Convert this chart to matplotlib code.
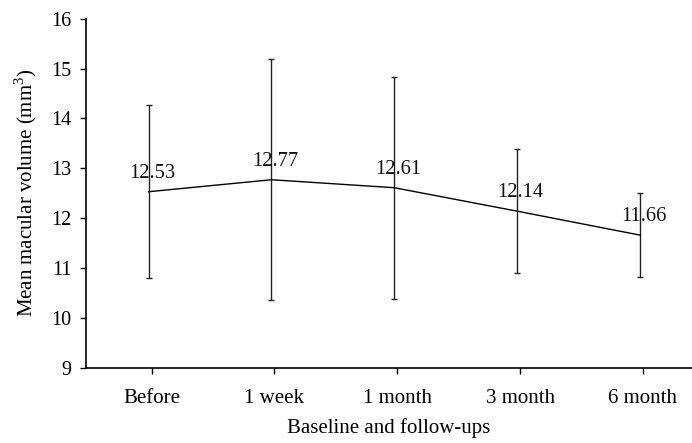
import matplotlib
matplotlib.use("Agg")
import matplotlib.pyplot as plt
import matplotlib.transforms as mtransforms

# Mean macular volume at baseline and follow-up visits, with standard deviations
visits = ["Before", "1 week", "1 month", "3 month", "6 month"]
mean_volume = [12.53, 12.77, 12.61, 12.14, 11.66]
sd_volume = [1.74, 2.42, 2.23, 1.25, 0.84]
y_ticks = [9, 10, 11, 12, 13, 14, 15, 16]

plt.rcParams["font.family"] = ["Liberation Serif", "DejaVu Serif"]
plt.rcParams["mathtext.fontset"] = "custom"
plt.rcParams["mathtext.rm"] = "Liberation Serif"

W, H, DPI = 692, 443, 100
fig = plt.figure(figsize=(W / DPI, H / DPI), dpi=DPI)
ax = fig.add_axes([86 / W, (H - 367.7) / H, (W - 86) / W, (367.7 - 18.7) / H])

x = list(range(len(visits)))

# series sits slightly left of the category ticks
shift = mtransforms.offset_copy(ax.transData, fig=fig, x=-3, y=0, units="dots")

ax.errorbar(x, mean_volume, yerr=sd_volume, color="black", ecolor="#222222",
            elinewidth=1.0, capsize=2.5, capthick=1.0, linewidth=1.0,
            transform=shift)

for xi, m in zip(x, mean_volume):
    ax.annotate(f"{m:.2f}", (xi, m), xytext=(0.5, 13.3), textcoords="offset points",
                ha="center", va="center", fontsize=14.8, color="#111111")

ax.set_xlim(-0.535, 4.40)
ax.set_ylim(9, 16)
ax.set_yticks(y_ticks)
ax.set_xticks(x)
ax.set_xticklabels(visits)

ax.spines["top"].set_visible(False)
ax.spines["right"].set_visible(False)
for s in ("left", "bottom"):
    ax.spines[s].set_linewidth(1.2)

ax.tick_params(axis="y", direction="out", length=4.3, width=1.0, pad=6.3,
               labelsize=14.5)
ax.tick_params(axis="x", direction="out", length=4.3, width=1.0, pad=11,
               labelsize=15)

ax.set_ylabel("Mean macular volume (mm$^3$)", fontsize=15, labelpad=8.5)
ax.set_xlabel("Baseline and follow-ups", fontsize=15, labelpad=7)

fig.savefig("out.png", dpi=DPI)
